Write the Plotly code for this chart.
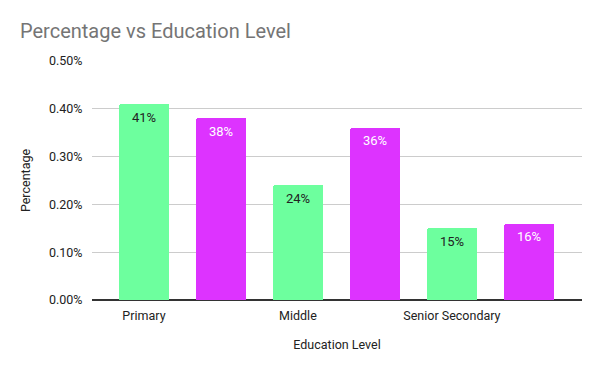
import plotly.graph_objects as go

tick_labels = ["Primary", "Middle", "Senior Secondary"]
tick_positions = [0, 2, 4]
bar_positions = [0, 1, 2, 3, 4, 5]
values = [0.0041, 0.0038, 0.0024, 0.0036, 0.0015, 0.0016]
value_labels = ["41%", "38%", "24%", "36%", "15%", "16%"]
bar_colors = ["#6dff9e", "#dd33ff", "#6dff9e", "#dd33ff", "#6dff9e", "#dd33ff"]
text_colors = ["#222222", "#ffffff", "#222222", "#ffffff", "#222222", "#ffffff"]

# The page body has an 8px default margin, so the figure is 8px smaller
W, H = 592, 363

fig = go.Figure(
    go.Bar(
        x=bar_positions,
        y=values,
        width=0.65,
        marker=dict(color=bar_colors, line=dict(width=0), cornerradius=2),
        hoverinfo="skip",
    )
)

for xp, v, lab, tc in zip(bar_positions, values, value_labels, text_colors):
    fig.add_annotation(
        x=xp, y=v, xref="x", yref="y",
        text=lab, showarrow=False,
        yanchor="middle", xanchor="center", yshift=-13,
        font=dict(family="Roboto", size=13, color=tc),
    )

fig.update_layout(
    width=W,
    height=H,
    margin=dict(l=84, r=18, t=53, b=71, autoexpand=False),
    paper_bgcolor="white",
    plot_bgcolor="white",
    font=dict(family="Roboto", size=12, color="#222222"),
    title=dict(
        text="Percentage vs Education Level",
        x=12 / W,
        xanchor="left",
        y=1 - 23 / H,
        yanchor="middle",
        font=dict(family="Roboto", size=20, color="#757575"),
    ),
    showlegend=False,
    bargap=0,
)

fig.update_xaxes(
    range=[-0.675, 5.69],
    tickvals=tick_positions,
    ticktext=tick_labels,
    showgrid=False,
    zeroline=False,
    showline=False,
    ticks="outside",
    ticklen=4,
    tickcolor="rgba(0,0,0,0)",
    automargin=False,
    tickfont=dict(size=12.5, color="#222222"),
    title=dict(text="Education Level", font=dict(size=12.5, color="#222222"), standoff=18),
)

fig.update_yaxes(
    range=[0, 0.005],
    tickvals=[0, 0.001, 0.002, 0.003, 0.004, 0.005],
    tickformat=".2%",
    showgrid=True,
    gridcolor="#cccccc",
    gridwidth=1,
    zeroline=True,
    zerolinecolor="#333333",
    zerolinewidth=1.5,
    showline=False,
    ticks="outside",
    ticklen=6,
    tickcolor="rgba(0,0,0,0)",
    automargin=False,
    tickfont=dict(size=12.5, color="#222222"),
    title=dict(text="Percentage", font=dict(size=12.5, color="#222222"), standoff=15),
)

fig.write_html("out.html")
